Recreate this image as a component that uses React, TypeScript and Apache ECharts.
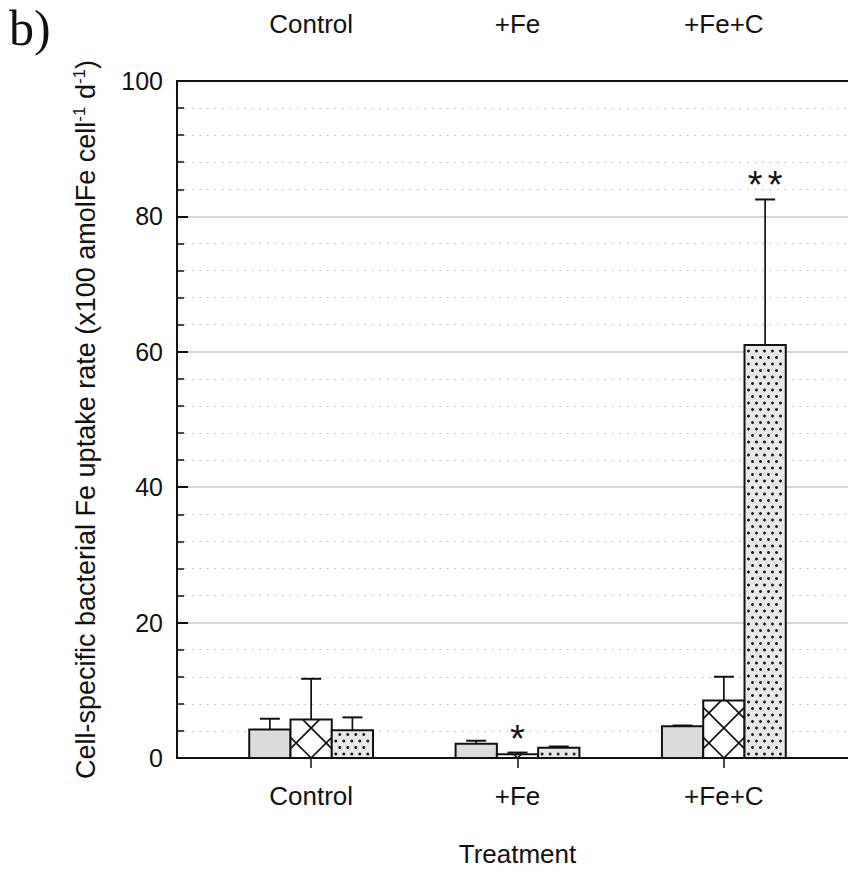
import React, { useEffect, useRef } from "react";
import * as echarts from "echarts";

// ---- data ----
const categories = ["Control", "+Fe", "+Fe+C"];
const grayMean = [4.2, 2.1, 4.7];
const grayErr = [1.6, 0.45, 0.1];
const crossMean = [5.7, 0.55, 8.5];
const crossErr = [6.0, 0.25, 3.5];
const dotMean = [4.1, 1.5, 61.0];
const dotErr = [1.9, 0.2, 21.5];
const crossSig = ["", "*", ""];
const dotSig = ["", "", "**"];
const yTicksMax = 100;
const yTickStep = 20;

const BAR_W = 0.2;
const FONT = "'Liberation Sans', Arial, sans-serif";

type Pattern = "gray" | "cross" | "dots";

function makeRender(pattern: Pattern, sig: string[]) {
  return (params: any, api: any) => {
    const x = api.value(0);
    const v = api.value(1);
    const top = api.value(2);
    const pL = api.coord([x - BAR_W / 2, 0]);
    const pR = api.coord([x + BAR_W / 2, v]);
    const L = pL[0];
    const R = pR[0];
    const B = pL[1];
    const T = pR[1];
    const W = R - L;
    const H = B - T;
    const cx = (L + R) / 2;
    const children: any[] = [];
    const fill = pattern === "gray" ? "#dcdcdc" : pattern === "dots" ? "#e8e8e8" : "#ffffff";
    children.push({
      type: "rect",
      shape: { x: L, y: T, width: W, height: H },
      style: { fill, stroke: "none" },
    });
    if (pattern === "cross") {
      const hw = W / 2;
      const P = 30;
      const nMin = Math.floor((-hw - H) / P) - 1;
      const nMax = Math.ceil((hw + H) / P) + 1;
      for (let n = nMin; n <= nMax; n++) {
        const c = n * P;
        let vlo = Math.max(0, -hw - c);
        let vhi = Math.min(H, hw - c);
        if (vhi - vlo > 0.5) {
          children.push({
            type: "line",
            shape: { x1: cx + c + vlo, y1: B - vlo, x2: cx + c + vhi, y2: B - vhi },
            style: { stroke: "#111", lineWidth: 1.7 },
          });
        }
        vlo = Math.max(0, c - hw);
        vhi = Math.min(H, c + hw);
        if (vhi - vlo > 0.5) {
          children.push({
            type: "line",
            shape: { x1: cx + c - vlo, y1: B - vlo, x2: cx + c - vhi, y2: B - vhi },
            style: { stroke: "#111", lineWidth: 1.7 },
          });
        }
      }
    }
    if (pattern === "dots") {
      const DX = 8;
      const DY = 6.5;
      let k = 0;
      for (let vy = 4; vy < H - 2; vy += DY, k++) {
        const off = k % 2 === 0 ? 4 : 8;
        for (let xx = L + off; xx < R - 2.5; xx += DX) {
          children.push({
            type: "circle",
            shape: { cx: xx, cy: B - vy, r: 1.5 },
            style: { fill: "#1e1e1e" },
          });
        }
      }
    }
    children.push({
      type: "rect",
      shape: { x: L, y: T, width: W, height: H },
      style: { fill: "none", stroke: "#111", lineWidth: 2 },
    });
    // error bar
    const pTop = api.coord([x, top]);
    const capHalf = 10;
    children.push({
      type: "line",
      shape: { x1: cx, y1: T, x2: cx, y2: pTop[1] },
      style: { stroke: "#111", lineWidth: 1.7 },
    });
    children.push({
      type: "line",
      shape: { x1: cx - capHalf, y1: pTop[1], x2: cx + capHalf, y2: pTop[1] },
      style: { stroke: "#111", lineWidth: 2 },
    });
    const s = sig[params.dataIndex];
    if (s) {
      const chars = s.split("");
      const step = 20;
      chars.forEach((ch, j) => {
        children.push({
          type: "text",
          x: cx + (j - (chars.length - 1) / 2) * step,
          y: pTop[1] - 14,
          style: {
            text: ch,
            font: `38px ${FONT}`,
            fill: "#111",
            align: "center",
            verticalAlign: "middle",
          },
        });
      });
    }
    return { type: "group", children };
  };
}

function buildSeries(pattern: Pattern, mean: number[], err: number[], offset: number, sig: string[]) {
  return {
    type: "custom",
    xAxisIndex: 0,
    yAxisIndex: 0,
    renderItem: makeRender(pattern, sig),
    encode: { x: 0, y: [1, 2] },
    data: categories.map((_, i) => [i + 1 + offset, mean[i], mean[i] + err[i]]),
    z: 5,
  };
}

export default function App() {
  const ref = useRef<HTMLDivElement>(null);
  useEffect(() => {
    if (!ref.current) return;
    const chart = echarts.init(ref.current, undefined, { renderer: "svg" });
    const catLabel = (v: number) => categories[Math.round(v) - 1] ?? "";
    const xCommon = {
      type: "value",
      min: 0.35,
      max: 3.65,
      splitLine: { show: false },
    };
    chart.setOption({
      animation: false,
      backgroundColor: "#ffffff",
      textStyle: { fontFamily: FONT },
      grid: { left: 177, top: 81, right: 0, bottom: 112 },
      graphic: [
        {
          type: "text",
          left: 9,
          top: 3,
          style: {
            text: "b)",
            font: "50px 'Liberation Serif', 'Times New Roman', serif",
            fill: "#111",
          },
        },
      ],
      xAxis: [
        {
          ...xCommon,
          position: "bottom",
          name: "Treatment",
          nameLocation: "middle",
          nameGap: 83,
          nameTextStyle: { fontSize: 26, color: "#111", fontFamily: FONT, verticalAlign: "top" },
          axisLine: { show: true, lineStyle: { color: "#111", width: 2 } },
          axisTick: {
            show: true,
            customValues: [1, 2, 3],
            length: 10,
            inside: false,
            lineStyle: { color: "#111", width: 1.5 },
          },
          axisLabel: {
            customValues: [1, 2, 3],
            formatter: catLabel,
            fontSize: 26,
            color: "#111",
            fontFamily: FONT,
            margin: 25,
          },
        },
        {
          ...xCommon,
          position: "top",
          axisLine: { show: true, onZero: false, lineStyle: { color: "#111", width: 2 } },
          axisTick: { show: false },
          axisLabel: {
            customValues: [1, 2, 3],
            formatter: catLabel,
            fontSize: 26,
            color: "#111",
            fontFamily: FONT,
            margin: 44,
          },
        },
      ],
      yAxis: {
        type: "value",
        min: 0,
        max: yTicksMax,
        interval: yTickStep,
        name: "Cell-specific bacterial Fe uptake rate (x100 amolFe cell{sup|-1} d{sup|-1})",
        nameLocation: "middle",
        nameGap: 77,
        nameTextStyle: {
          fontSize: 27,
          color: "#111",
          fontFamily: FONT,
          rich: {
            sup: { fontSize: 17, verticalAlign: "top", color: "#111", fontFamily: FONT, padding: [0, 0, 12, 0] },
          },
        },
        axisLine: { show: true, onZero: false, lineStyle: { color: "#111", width: 2 } },
        axisTick: { show: true, inside: true, length: 11, lineStyle: { color: "#111", width: 2 } },
        minorTick: { show: true, splitNumber: 5, length: 7, lineStyle: { color: "#111", width: 1.5 } },
        axisLabel: { fontSize: 25, color: "#111", fontFamily: FONT, margin: 14 },
        splitLine: { show: true, lineStyle: { color: "#c8c8c8", width: 1.6 } },
        minorSplitLine: { show: true, lineStyle: { color: "#b8b8b8", width: 1, type: [1.5, 6] } },
      },
      series: [
        buildSeries("gray", grayMean, grayErr, -BAR_W, ["", "", ""]),
        buildSeries("cross", crossMean, crossErr, 0, crossSig),
        buildSeries("dots", dotMean, dotErr, BAR_W, dotSig),
      ],
    });
    return () => chart.dispose();
  }, []);
  return (
    <div style={{ position: "fixed", left: 0, top: 0, width: 848, height: 872, overflow: "hidden", background: "#fff" }}>
      <div ref={ref} style={{ width: 858, height: 872 }} />
    </div>
  );
}
